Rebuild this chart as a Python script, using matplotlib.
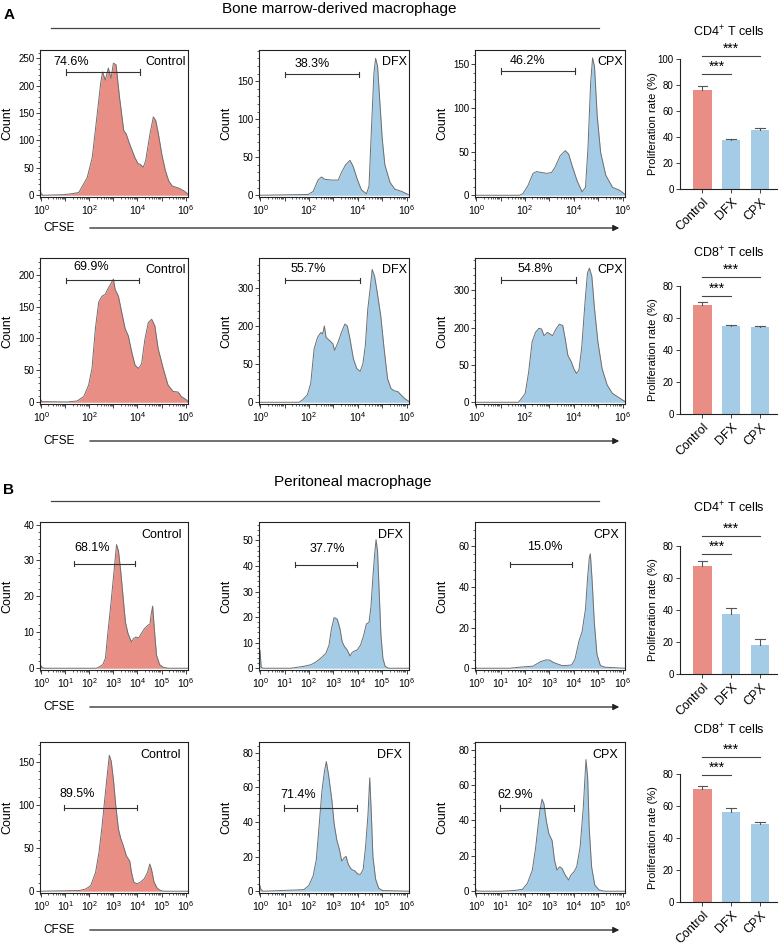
import numpy as np
import matplotlib.pyplot as plt
from matplotlib.lines import Line2D
from matplotlib.patches import FancyArrowPatch
from matplotlib.ticker import AutoMinorLocator, LogLocator, NullFormatter, FixedLocator

plt.rcParams['font.family'] = ['Liberation Sans', 'DejaVu Sans']
plt.rcParams['mathtext.fontset'] = 'custom'
plt.rcParams['mathtext.rm'] = 'Liberation Sans'
plt.rcParams['mathtext.it'] = 'Liberation Sans:italic'
plt.rcParams['mathtext.bf'] = 'Liberation Sans:bold'

W, H = 784, 948
RED = '#E88E84'
BLUE = '#A5CCE6'
EDGE = '#6E6E6E'

groups = ['Control', 'DFX', 'CPX']

# ---- CFSE histograms: x = log10(CFSE), y = count ----
# A, CD4+
a4_ctrl_log = [-0.05, -0.01, 0.08, 0.92, 1.30, 1.56, 1.91, 2.12, 2.33, 2.47, 2.55, 2.66, 2.79, 2.90, 3.00, 3.11, 3.25, 3.43,
               3.53, 3.67, 3.89, 4.03, 4.10, 4.24, 4.34, 4.52, 4.66, 4.76, 4.87, 5.01, 5.16, 5.30, 5.44, 5.72, 5.93, 6.10]
a4_ctrl_cnt = [14, 3, 0, 1, 3, 5, 32, 69, 149, 204, 225, 210, 232, 213, 241, 238, 180, 118,
               112, 94, 69, 57, 57, 51, 63, 112, 143, 136, 112, 75, 45, 26, 17, 13, 8, 2]
a4_dfx_log = [-0.05, 1.96, 2.17, 2.37, 2.51, 2.65, 2.92, 3.20, 3.33, 3.50, 3.68, 3.81, 3.99, 4.15, 4.36, 4.46,
              4.57, 4.66, 4.73, 4.81, 4.91, 5.00, 5.11, 5.32, 5.52, 5.80, 6.07]
a4_dfx_cnt = [0, 1, 5, 20, 24, 21, 20, 20, 30, 40, 46, 38, 20, 7, 2, 12, 95, 160, 180, 170, 120, 75, 40, 17, 8, 5, 1]
a4_cpx_log = [-0.05, 1.78, 1.92, 2.12, 2.33, 2.47, 2.68, 2.89, 3.09, 3.23, 3.44, 3.65, 3.79, 3.93, 4.13, 4.34,
              4.48, 4.58, 4.69, 4.77, 4.85, 4.96, 5.10, 5.31, 5.59, 5.86, 6.10]
a4_cpx_cnt = [0, 0, 2, 11, 25, 27, 26, 25, 26, 32, 45, 51, 47, 34, 17, 4, 9, 53, 128, 157, 147, 91, 49, 23, 9, 6, 1]

# A, CD8+
a8_ctrl_log = [-0.05, 0.03, 1.08, 1.49, 1.77, 1.97, 2.11, 2.25, 2.39, 2.52, 2.66, 2.76, 2.87, 3.00, 3.07, 3.21, 3.35, 3.49,
               3.62, 3.76, 3.90, 4.04, 4.17, 4.31, 4.45, 4.59, 4.72, 4.86, 5.07, 5.27, 5.48, 5.69, 5.82, 6.03, 6.10]
a8_ctrl_cnt = [6, 1, 0.5, 2, 9, 27, 53, 115, 157, 166, 169, 177, 184, 193, 177, 166, 140, 115,
               104, 79, 58, 53, 60, 99, 125, 130, 120, 84, 53, 27, 17, 16, 9, 4, 1]
a8_dfx_log = [-0.05, 1.59, 1.73, 1.93, 2.07, 2.21, 2.35, 2.49, 2.56, 2.63, 2.70, 2.84, 2.98, 3.05, 3.19, 3.33, 3.47, 3.57, 3.68,
              3.82, 3.96, 4.10, 4.21, 4.31, 4.41, 4.52, 4.59, 4.69, 4.80, 4.94, 5.08, 5.22, 5.36, 5.50, 5.64, 5.78, 5.92, 6.10]
a8_dfx_cnt = [0, 0, 6, 19, 49, 140, 170, 183, 179, 200, 170, 162, 153, 136, 157, 183, 205, 200, 166,
              114, 88, 81, 101, 149, 244, 305, 348, 330, 287, 227, 140, 62, 36, 30, 28, 19, 10, 2]
a8_cpx_log = [-0.05, 1.73, 1.87, 2.01, 2.15, 2.29, 2.43, 2.57, 2.68, 2.78, 2.92, 3.02, 3.13, 3.27, 3.41, 3.55, 3.65, 3.76,
              3.90, 4.00, 4.11, 4.21, 4.32, 4.46, 4.56, 4.64, 4.74, 4.85, 4.99, 5.16, 5.37, 5.58, 5.79, 5.93, 6.10]
a8_cpx_cnt = [0, 0, 11, 24, 81, 161, 187, 198, 196, 178, 187, 183, 178, 196, 209, 205, 169, 125,
              108, 90, 77, 86, 143, 267, 346, 359, 337, 250, 161, 90, 46, 24, 15, 9, 2]

# B, CD4+
b4_ctrl_log = [-0.05, 0.02, 0.13, 2.29, 2.42, 2.56, 2.67, 2.76, 2.90, 3.03, 3.13, 3.21, 3.30, 3.40, 3.50, 3.61,
               3.75, 3.84, 3.94, 4.05, 4.15, 4.29, 4.42, 4.52, 4.56, 4.63, 4.69, 4.79, 4.92, 5.06, 5.26, 6.10]
b4_ctrl_cnt = [1.2, 0.3, 0, 0, 0.4, 1, 2.8, 9.2, 18.2, 27.3, 34.4, 32.7, 27.3, 20, 12.8, 9.6,
               7.3, 8.3, 8.7, 8.4, 9.6, 11, 11.9, 12.3, 14.6, 17.3, 11.9, 3.7, 1, 0.3, 0, 0]
b4_dfx_log = [-0.05, -0.01, 0.04, 0.11, 1.26, 1.53, 1.81, 2.08, 2.28, 2.48, 2.69, 2.82, 2.92, 3.03, 3.16, 3.27, 3.36, 3.46, 3.57,
              3.68, 3.77, 3.86, 3.97, 4.11, 4.24, 4.35, 4.46, 4.54, 4.62, 4.69, 4.75, 4.81, 4.88, 4.95, 5.03, 5.12, 5.26, 6.10]
b4_dfx_cnt = [7.7, 7, 0.5, 0, 0, 0.4, 0.8, 1.4, 2.4, 3.9, 5.8, 9, 15.4, 19.8, 19.2, 15.4, 10.3, 8.4, 7.1,
              4.8, 6.2, 6.7, 7.1, 9, 12.8, 17.3, 17.9, 24.2, 35.7, 44.5, 50.3, 45.8, 29.2, 12.8, 3.9, 0.8, 0, 0]
b4_cpx_log = [-0.05, 0.02, 1.37, 1.77, 2.05, 2.32, 2.52, 2.65, 2.86, 3.02, 3.15, 3.33, 3.53, 3.73,
              3.91, 4.05, 4.21, 4.34, 4.48, 4.57, 4.64, 4.68, 4.75, 4.84, 4.95, 5.09, 5.29, 6.10]
b4_cpx_cnt = [0.8, 0, 0, 0.5, 0.8, 1, 2.4, 3.3, 4.1, 4, 2.9, 2.1, 1.3, 1.4,
              1.6, 4.5, 13.2, 18, 29.1, 45, 54.6, 56.2, 43.4, 22.8, 6.8, 1.3, 0.5, 0]

# B, CD8+
b8_ctrl_log = [-0.05, 1.59, 1.86, 2.06, 2.26, 2.40, 2.53, 2.64, 2.74, 2.83, 2.91, 3.00, 3.10, 3.21, 3.31, 3.41,
               3.54, 3.68, 3.75, 3.85, 3.99, 4.15, 4.28, 4.42, 4.51, 4.58, 4.69, 4.82, 4.96, 5.09, 6.10]
b8_ctrl_cnt = [0, 0.8, 2.7, 6.6, 22, 45, 76, 107, 134, 158, 151, 130, 99, 72, 61, 53,
               41, 35, 22, 10.4, 8.5, 11.2, 14.3, 22, 31.6, 25.8, 10.4, 3.5, 0.8, 0, 0]
b8_dfx_log = [-0.05, 0.02, 0.11, 1.26, 1.79, 1.99, 2.17, 2.30, 2.40, 2.53, 2.63, 2.71, 2.80, 2.94, 3.03, 3.14, 3.25, 3.34,
              3.44, 3.52, 3.61, 3.74, 3.88, 4.01, 4.11, 4.22, 4.32, 4.42, 4.49, 4.55, 4.62, 4.73, 4.86, 5.02, 6.10]
b8_dfx_cnt = [5, 1.3, 0, 0.6, 0.9, 3.2, 8.9, 18.3, 35.3, 58, 69, 74.9, 67.4, 52.3, 39, 29.6, 24, 17.4,
              19.2, 20.2, 15.5, 12.6, 11.7, 9.8, 9.8, 12.6, 25.8, 44.7, 65.5, 46.6, 20.2, 7, 1.7, 0.4, 0]
b8_cpx_log = [-0.05, 0.02, 0.22, 1.03, 1.56, 1.90, 2.10, 2.30, 2.44, 2.53, 2.61, 2.70, 2.78, 2.87, 2.98, 3.11, 3.21, 3.31,
              3.42, 3.52, 3.65, 3.79, 3.88, 4.01, 4.12, 4.26, 4.39, 4.50, 4.57, 4.63, 4.73, 4.86, 5.04, 5.27, 6.10]
b8_cpx_cnt = [2.2, 0.2, 0, 0, 0.4, 1.1, 4.5, 11.9, 25, 36.2, 45.5, 52, 49.2, 40, 32.4, 28.7, 17.5, 11.9,
              13.8, 12.9, 9.1, 6.3, 9.1, 11, 13.8, 25, 47.4, 74.4, 64.1, 36.2, 13.8, 3.5, 0.7, 0, 0]

# gate percentages
pct_a4 = ['74.6%', '38.3%', '46.2%']
pct_a8 = ['69.9%', '55.7%', '54.8%']
pct_b4 = ['68.1%', '37.7%', '15.0%']
pct_b8 = ['89.5%', '71.4%', '62.9%']

# ---- proliferation rate bars (%) ----
cd4_bm = [76.2, 37.7, 45.4]
cd4_bm_err = [3.0, 0.6, 1.2]
cd8_bm = [68.2, 55.0, 54.2]
cd8_bm_err = [2.0, 0.8, 1.0]
cd4_pm = [67.7, 37.3, 18.1]
cd4_pm_err = [3.1, 4.2, 3.6]
cd8_pm = [70.4, 56.2, 48.5]
cd8_pm_err = [2.1, 2.7, 1.7]

fig = plt.figure(figsize=(W / 100, H / 100), dpi=100)


def axes_px(x0, y0, x1, y1):
    return fig.add_axes([x0 / W, 1 - y1 / H, (x1 - x0) / W, (y1 - y0) / H])


def hist_panel(ax, logs, cnts, color, ymax, yticks, ylabels, gate, pct, pct_pos, name, name_x, all_dec):
    x = 10.0 ** np.array(logs)
    ax.fill_between(x, cnts, 0, color=color, lw=0, zorder=1)
    ax.plot(x, cnts, color=EDGE, lw=0.7, zorder=2)
    ax.set_xscale('log')
    ax.set_xlim(10 ** -0.05, 10 ** 6.1)
    ax.set_ylim(-0.012 * ymax, ymax)
    ax.set_yticks(yticks)
    ax.set_yticklabels(ylabels)
    ax.yaxis.set_minor_locator(AutoMinorLocator(5))
    ax.xaxis.set_major_locator(FixedLocator([10.0 ** k for k in range(7)]))
    ax.xaxis.set_minor_locator(LogLocator(base=10, subs=np.arange(2, 10), numticks=20))
    ax.xaxis.set_minor_formatter(NullFormatter())
    ax.set_xticklabels([r'$10^{%d}$' % k if (all_dec or k % 2 == 0) else '' for k in range(7)])
    ax.tick_params(which='major', length=3, width=0.6, pad=1, color='#222')
    ax.tick_params(axis='y', labelsize=7)
    ax.tick_params(axis='x', labelsize=7.5, pad=1.5)
    ax.tick_params(which='minor', length=1.6, width=0.5, color='#222')
    for s in ax.spines.values():
        s.set_linewidth(0.8)
        s.set_color('#222')
    # gate
    lo, hi, lvl = gate
    d = 0.018 * ymax
    ax.plot([10 ** lo, 10 ** hi], [lvl, lvl], color='#333', lw=0.8, zorder=3)
    for g in (lo, hi):
        ax.plot([10 ** g, 10 ** g], [lvl - d, lvl + d], color='#333', lw=0.8, zorder=3)
    ax.text(10 ** pct_pos[0], pct_pos[1], pct, ha='center', va='center', fontsize=9)
    ax.text(name_x, 0.915, name, transform=ax.transAxes, ha='right', va='center', fontsize=9)
    ax.set_ylabel('Count', fontsize=9, va='center')
    ax.yaxis.set_label_coords(-0.22, 0.5)


def bar_panel(ax, vals, errs, ymax, sig, title, title_y):
    xs = np.arange(len(groups))
    ax.bar(xs, vals, width=0.64, color=[RED, BLUE, BLUE], zorder=2)
    for xi, v, e in zip(xs, vals, errs):
        ax.plot([xi, xi], [v, v + e], color='#555', lw=0.8, zorder=3)
        ax.plot([xi - 0.17, xi + 0.17], [v + e, v + e], color='#555', lw=0.8, zorder=3)
    ax.set_xlim(-0.78, 2.6)
    ax.set_ylim(0, ymax)
    ax.set_yticks(np.arange(0, ymax + 1, 20))
    ax.set_xticks(xs)
    ax.set_xticklabels(groups, rotation=45, ha='right', rotation_mode='anchor', fontsize=9)
    ax.tick_params(axis='y', length=3, width=0.6, pad=1.5, labelsize=7, color='#222')
    ax.tick_params(axis='x', length=3, width=0.6, pad=2, color='#222')
    for s in ['top', 'right']:
        ax.spines[s].set_visible(False)
    for s in ['left', 'bottom']:
        ax.spines[s].set_linewidth(0.8)
        ax.spines[s].set_color('#222')
    lo_y, hi_y = sig
    ax.plot([0, 1], [lo_y, lo_y], color='#444', lw=0.8, clip_on=False)
    ax.plot([0, 2], [hi_y, hi_y], color='#444', lw=0.8, clip_on=False)
    ax.text(0.5, lo_y, '***', ha='center', va='bottom', fontsize=10)
    ax.text(1.0, hi_y, '***', ha='center', va='bottom', fontsize=10)
    ax.set_ylabel('Proliferation rate (%)', fontsize=8, va='center')
    ax.yaxis.set_label_coords(-0.28, 0.5)
    fig.text(729 / W, 1 - title_y / H, title, ha='center', va='center', fontsize=9)


cols = [(40, 188), (259, 409), (475, 625)]

rows = [
    dict(top=50, bot=197, hist=[(a4_ctrl_log, a4_ctrl_cnt), (a4_dfx_log, a4_dfx_cnt), (a4_cpx_log, a4_cpx_cnt)],
         ymax=[265, 191, 166],
         yt=[[0, 50, 100, 150, 200, 250], [0, 50, 100, 150], [0, 50, 100, 150]],
         ytl=[['0', '50', '100', '150', '200', '250'], ['0', '50', '100', '150'], ['0', '50', '100', '150']],
         gates=[(1.04, 4.10, 225), (1.03, 4.06, 159), (1.02, 4.06, 142)],
         pct=pct_a4, pct_pos=[(1.23, 244), (2.13, 172), (2.12, 153)], name_x=0.985, all_dec=False,
         bar=(cd4_bm, cd4_bm_err), bar_px=(59, 189), bar_ymax=100, sig=(88.5, 102.3),
         title='CD4$^{+}$ T cells', title_y=32, cfse_y=228),
    dict(top=258, bot=404, hist=[(a8_ctrl_log, a8_ctrl_cnt), (a8_dfx_log, a8_dfx_cnt), (a8_cpx_log, a8_cpx_cnt)],
         ymax=[226, 378, 386],
         yt=[[0, 50, 100, 150, 200], [0, 100, 200, 300], [0, 100, 200, 300]],
         ytl=[['0', '50', '100', '150', '200'], ['0', '50', '200', '300'], ['0', '50', '200', '300']],
         gates=[(1.04, 4.05, 191), (1.03, 4.10, 320), (1.03, 4.11, 327)],
         pct=pct_a8, pct_pos=[(2.07, 212), (1.98, 350), (2.43, 357)], name_x=0.985, all_dec=False,
         bar=(cd8_bm, cd8_bm_err), bar_px=(286, 414), bar_ymax=80, sig=(73.8, 85.6),
         title='CD8$^{+}$ T cells', title_y=253, cfse_y=441),
    dict(top=522, bot=670, hist=[(b4_ctrl_log, b4_ctrl_cnt), (b4_dfx_log, b4_dfx_cnt), (b4_cpx_log, b4_cpx_cnt)],
         ymax=[40.7, 57.2, 71.8],
         yt=[[0, 10, 20, 30, 40], [0, 10, 20, 30, 40, 50], [0, 20, 40, 60]],
         ytl=[['0', '10', '20', '30', '40'], ['0', '10', '20', '30', '40', '50'], ['0', '20', '40', '60']],
         gates=[(1.37, 3.88, 29.1), (1.43, 3.97, 40.5), (1.37, 3.91, 51.1)],
         pct=pct_b4, pct_pos=[(2.11, 33.5), (2.75, 46.8), (2.82, 59.4)], name_x=0.96, all_dec=True,
         bar=(cd4_pm, cd4_pm_err), bar_px=(546, 674), bar_ymax=80, sig=(75.0, 86.3),
         title='CD4$^{+}$ T cells', title_y=508, cfse_y=707),
    dict(top=742, bot=893, hist=[(b8_ctrl_log, b8_ctrl_cnt), (b8_dfx_log, b8_dfx_cnt), (b8_cpx_log, b8_cpx_cnt)],
         ymax=[173.5, 86.2, 84.3],
         yt=[[0, 50, 100, 150], [0, 20, 40, 60, 80], [0, 20, 40, 60, 80]],
         ytl=[['0', '50', '100', '150'], ['0', '20', '40', '60', '80'], ['0', '20', '40', '60', '80']],
         gates=[(0.96, 3.99, 97), (0.99, 3.97, 48.1), (0.99, 3.99, 47)],
         pct=pct_b8, pct_pos=[(1.48, 113), (1.55, 55.5), (1.59, 54.3)], name_x=0.955, all_dec=True,
         bar=(cd8_pm, cd8_pm_err), bar_px=(774, 902), bar_ymax=80, sig=(79.4, 90.6),
         title='CD8$^{+}$ T cells', title_y=730, cfse_y=930),
]

for r in rows:
    for i, (x0, x1) in enumerate(cols):
        ax = axes_px(x0, r['top'], x1, r['bot'])
        logs, cnts = r['hist'][i]
        hist_panel(ax, logs, cnts, RED if i == 0 else BLUE, r['ymax'][i], r['yt'][i], r['ytl'][i],
                   r['gates'][i], r['pct'][i], r['pct_pos'][i], groups[i], r['name_x'], r['all_dec'])
    bax = axes_px(680, r['bar_px'][0], 777, r['bar_px'][1])
    bar_panel(bax, r['bar'][0], r['bar'][1], r['bar_ymax'], r['sig'], r['title'], r['title_y'])
    # CFSE axis arrow
    y = 1 - r['cfse_y'] / H
    fig.text(43 / W, y, 'CFSE', ha='left', va='center', fontsize=8.5)
    fig.add_artist(FancyArrowPatch((87 / W, y), (622 / W, y), transform=fig.transFigure,
                                   arrowstyle='-|>', mutation_scale=9, lw=0.9, color='#222'))

# section headers
fig.text(9 / W, 1 - 15 / H, 'A', ha='center', va='center', fontsize=11, fontweight='bold')
fig.text(339 / W, 1 - 9 / H, 'Bone marrow-derived macrophage', ha='center', va='center', fontsize=11)
fig.add_artist(Line2D([51 / W, 599 / W], [1 - 28 / H] * 2, transform=fig.transFigure, lw=0.9, color='#444'))
fig.text(9 / W, 1 - 490 / H, 'B', ha='center', va='center', fontsize=11, fontweight='bold')
fig.text(353 / W, 1 - 482 / H, 'Peritoneal macrophage', ha='center', va='center', fontsize=11)
fig.add_artist(Line2D([51 / W, 599 / W], [1 - 501 / H] * 2, transform=fig.transFigure, lw=0.9, color='#444'))

fig.savefig('out.png', dpi=100)
